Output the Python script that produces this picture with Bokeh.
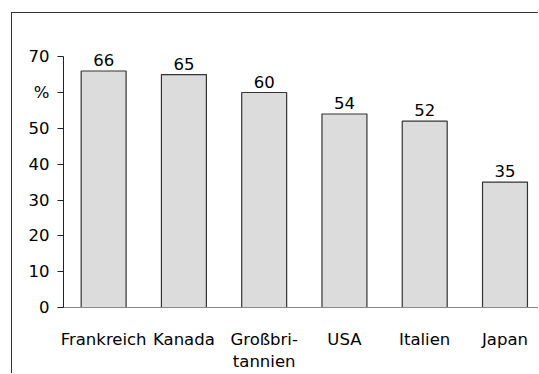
from bokeh.plotting import figure
from bokeh.models import Range1d, FixedTicker, ColumnDataSource
from bokeh.core.properties import value
from bokeh.embed import file_html
from bokeh.resources import INLINE

# Anteil in Prozent je Land
countries = ["Frankreich", "Kanada", "Großbri-\ntannien", "USA", "Italien", "Japan"]
shares = [66, 65, 60, 54, 52, 35]
y_ticks = [0, 10, 20, 30, 40, 50, 60, 70]
y_tick_labels = ["0", "10", "20", "30", "40", "50", "%", "70"]

FONT = "DejaVu Sans"
FS = "16.5px"

positions = [i + 0.5 for i in range(len(countries))]
src = ColumnDataSource(dict(x=positions, top=shares, label=[str(v) for v in shares]))

# the canvas sits inside a frame drawn with left/top borders
p = figure(width=527, height=361, output_backend="svg", toolbar_location=None,
           x_range=Range1d(0, 5.93), y_range=Range1d(0, 80.1),
           min_border_left=51, min_border_right=0, min_border_top=7,
           min_border_bottom=63)
p.margin = (12, 0, 0, 11)
p.styles = {"border-left": "1px solid #333333", "border-top": "1px solid #333333"}
p.outline_line_color = None
p.xgrid.visible = False
p.ygrid.visible = False
p.background_fill_color = "white"
p.border_fill_color = "white"

p.vbar(x="x", top="top", bottom=0, width=0.56, source=src,
       fill_color="#dcdcdc", line_color="#333333", line_width=1.2)

# value labels just above each bar
p.text(x="x", y="top", text="label", source=src, text_align="center",
       text_baseline="alphabetic", y_offset=-11, text_color="black",
       text_font=value(FONT), text_font_size=FS)

# y axis
ya = p.yaxis[0]
ya.ticker = FixedTicker(ticks=y_ticks)
ya.major_label_overrides = {t: lab for t, lab in zip(y_ticks, y_tick_labels)}
ya.bounds = (0, 70)
ya.axis_line_color = "#222222"
ya.major_tick_line_color = "#222222"
ya.major_tick_out = 6
ya.major_tick_in = 0
ya.minor_tick_line_color = None
ya.major_label_standoff = 8
ya.major_label_text_font = FONT
ya.major_label_text_font_size = FS
ya.major_label_text_color = "black"

# x axis with country names
xa = p.xaxis[0]
xa.ticker = FixedTicker(ticks=positions)
xa.major_label_overrides = {pos: name for pos, name in zip(positions, countries)}
xa.axis_line_color = "#888888"
xa.major_tick_line_color = None
xa.minor_tick_line_color = None
xa.major_label_standoff = 16
xa.major_label_text_font = FONT
xa.major_label_text_font_size = FS
xa.major_label_text_color = "black"
xa.major_label_text_line_height = 1.2

open("out.html", "w").write(file_html(p, INLINE))
